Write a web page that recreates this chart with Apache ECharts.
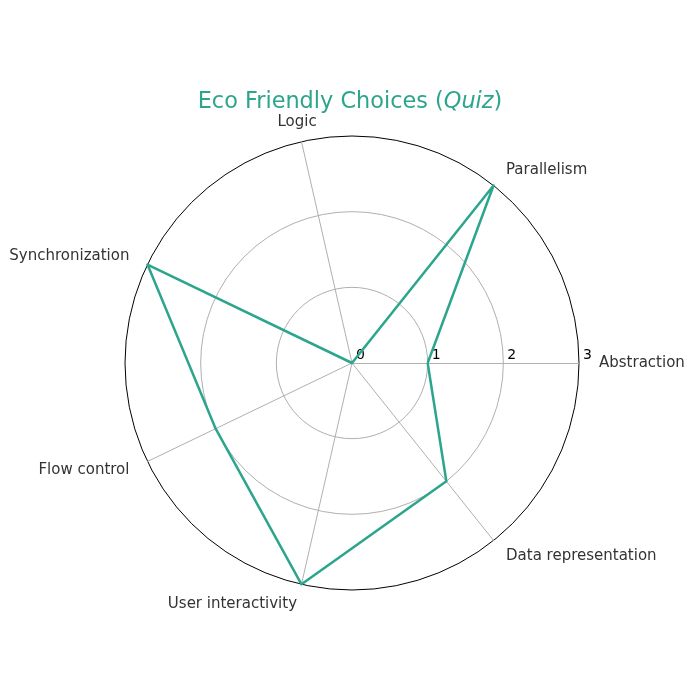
<!DOCTYPE html>
<html>
<head>
<meta charset="utf-8">
<script src="https://cdn.jsdelivr.net/npm/echarts@6/dist/echarts.min.js"></script>
<style>
html,body{margin:0;padding:0;background:#fff;}
#chart{width:700px;height:700px;}
</style>
</head>
<body>
<div id="chart"></div>
<script>
const categories = ['Abstraction', 'Parallelism', 'Logic', 'Synchronization', 'Flow control', 'User interactivity', 'Data representation'];
const values = [1, 3, 0, 3, 2, 3, 2];
const tickLabels = ['0', '1', '2', '3'];
const maxValue = 3;
const titleMain = 'Eco Friendly Choices (';
const titleItalic = 'Quiz';
const titleEnd = ')';

const FONT = 'DejaVu Sans';
const TEAL = '#2ca58d';

const indicators = categories.map(function (name, i) {
  const ind = { name: name, min: 0, max: maxValue };
  if (i === 0) {
    ind.axisLabel = {
      show: true,
      color: '#000',
      fontFamily: FONT,
      fontSize: 14,
      align: 'left',
      verticalAlign: 'bottom',
      margin: 1,
      padding: [0, 0, 0, 4],
      formatter: function (v) { return tickLabels[Math.round(v)] || String(v); }
    };
  }
  if (name === 'Logic') {
    ind.nameTextStyle = { align: 'center' };
  }
  return ind;
});

const chart = echarts.init(document.getElementById('chart'), null, { renderer: 'canvas' });
chart.setOption({
  animation: false,
  backgroundColor: '#fff',
  title: {
    text: titleMain + '{i|' + titleItalic + '}' + titleEnd,
    left: 'center',
    top: 86,
    padding: [5, 5, 5, 12],
    textStyle: {
      color: TEAL,
      fontFamily: FONT,
      fontSize: 22.4,
      fontWeight: 'normal',
      rich: {
        i: { color: TEAL, fontFamily: FONT, fontSize: 22.4, fontStyle: 'italic' }
      }
    }
  },
  radar: {
    center: [352, 363],
    radius: 227,
    startAngle: 0,
    shape: 'circle',
    splitNumber: 3,
    indicator: indicators,
    axisNameGap: 20,
    axisName: {
      color: '#333',
      fontFamily: FONT,
      fontSize: 15
    },
    axisLine: { lineStyle: { color: '#b0b0b0', width: 1 } },
    axisTick: { show: false },
    axisLabel: { show: false },
    splitArea: { show: false },
    splitLine: { lineStyle: { color: ['#b0b0b0', '#b0b0b0', '#b0b0b0', '#000'], width: 1 } }
  },
  series: [{
    type: 'radar',
    symbol: 'none',
    lineStyle: { color: TEAL, width: 2.5 },
    data: [{ value: values, name: 'Quiz' }]
  }]
});
</script>
</body>
</html>
